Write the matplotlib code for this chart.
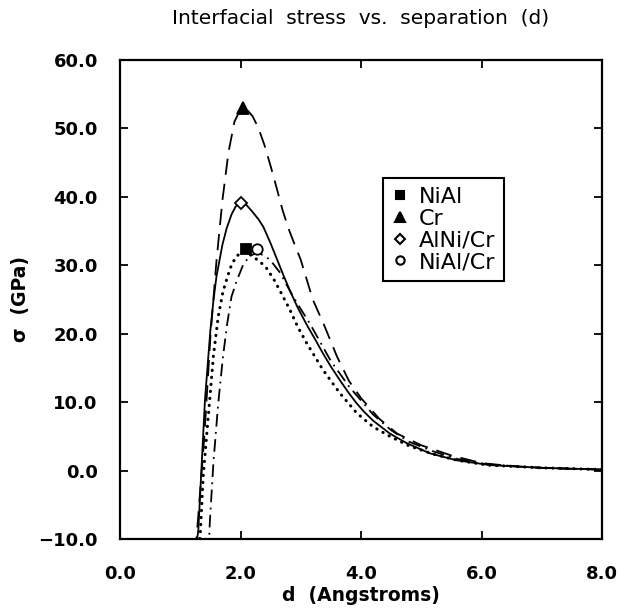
import matplotlib
matplotlib.use("Agg")
import matplotlib.pyplot as plt
from matplotlib.lines import Line2D

plt.rcParams['font.family'] = ['DejaVu Sans']

# ---- data ----
cr_x = [1.25, 1.30, 1.40, 1.50, 1.60, 1.70, 1.80, 1.90, 2.00, 2.05, 2.10, 2.20, 2.30, 2.40,
        2.50, 2.60, 2.70, 2.80, 2.90, 3.00, 3.20, 3.40, 3.60, 3.80, 4.00, 4.30, 4.60, 5.00,
        5.50, 6.00, 6.50, 7.00, 7.50, 8.00]
cr_y = [-12.0, -6.5, 5.0, 19.5, 30.5, 39.5, 46.5, 51.0, 52.8, 53.0, 52.8, 51.8, 50.0, 47.5,
        44.5, 41.3, 38.0, 35.3, 33.0, 30.8, 25.0, 21.0, 16.7, 13.1, 10.6, 7.6, 5.4, 3.7,
        2.2, 1.1, 0.65, 0.4, 0.25, 0.15]

alnicr_x = [1.25, 1.30, 1.41, 1.50, 1.55, 1.60, 1.70, 1.77, 1.85, 1.92, 2.00, 2.10, 2.20, 2.30,
            2.38, 2.50, 2.60, 2.71, 2.82, 2.95, 3.10, 3.25, 3.37, 3.50, 3.65, 3.80, 3.93, 4.05,
            4.20, 4.48, 4.76, 5.15, 5.59, 6.14, 7.00, 8.00]
alnicr_y = [-12.0, -8.7, 10.3, 20.5, 24.8, 28.3, 33.0, 35.4, 37.4, 38.6, 39.2, 38.8, 37.8, 36.7,
            35.6, 33.2, 31.0, 28.6, 26.3, 23.8, 21.3, 19.0, 17.1, 15.2, 13.2, 11.3, 9.8, 8.6,
            7.3, 5.4, 4.0, 2.5, 1.5, 0.8, 0.4, 0.15]

nial_x = [1.30, 1.33, 1.38, 1.47, 1.55, 1.63, 1.71, 1.83, 1.92, 2.00, 2.08, 2.15, 2.25, 2.35,
          2.43, 2.55, 2.66, 2.82, 2.95, 3.10, 3.37, 3.65, 3.93, 4.20, 4.48, 4.80, 5.20, 5.60,
          6.10, 7.00, 8.00]
nial_y = [-12.0, -9.7, -0.9, 8.4, 16.7, 22.5, 26.2, 29.6, 31.2, 31.8, 31.9, 31.6, 31.0, 30.3,
          29.6, 28.0, 26.2, 23.5, 21.0, 18.6, 14.7, 11.3, 8.4, 6.4, 5.0, 3.6, 2.4, 1.5,
          0.8, 0.4, 0.15]

nialcr_x = [1.47, 1.49, 1.55, 1.63, 1.71, 1.78, 1.85, 1.94, 2.05, 2.16, 2.27, 2.38, 2.49, 2.65,
            2.85, 3.00, 3.15, 3.50, 3.80, 4.20, 4.50, 4.80, 5.20, 5.60, 6.10, 7.00, 8.00]
nialcr_y = [-12.0, -7.7, 1.1, 9.8, 16.7, 21.5, 25.4, 27.8, 30.2, 31.4, 31.8, 31.5, 30.8, 29.0,
            25.8, 23.6, 21.5, 16.0, 12.3, 8.2, 5.9, 4.2, 2.8, 1.7, 0.9, 0.4, 0.15]

# peak markers
labels = ['NiAl', 'Cr', 'AlNi/Cr', 'NiAl/Cr']
peak_x = [2.09, 2.04, 2.00, 2.27]
peak_y = [32.4, 53.0, 39.1, 32.4]

x_ticks = [0.0, 2.0, 4.0, 6.0, 8.0]
y_ticks = [-10.0, 0.0, 10.0, 20.0, 30.0, 40.0, 50.0, 60.0]

# ---- figure ----
fig = plt.figure(figsize=(6.18, 6.10), dpi=100)
ax = fig.add_axes([120/618, 71/610, 482/618, 479/610])

lw = 1.3
ax.plot(alnicr_x, alnicr_y, color='black', lw=lw, linestyle='-')
ax.plot(cr_x, cr_y, color='black', lw=lw, linestyle=(0, (9, 5)))
ax.plot(nial_x, nial_y, color='black', lw=2.2, linestyle=(0, (0.1, 2.2)),
        dash_capstyle='round')
ax.plot(nialcr_x, nialcr_y, color='black', lw=lw, linestyle=(0, (7, 3, 1, 3)))

mk = ['s', '^', 'D', 'o']
mfc = ['black', 'black', 'white', 'white']
msz = [7.5, 8.5, 6.5, 7.5]
for i in range(4):
    ax.plot([peak_x[i]], [peak_y[i]], marker=mk[i], markersize=msz[i],
            markerfacecolor=mfc[i], markeredgecolor='black', markeredgewidth=1.3,
            linestyle='none', zorder=5)

handles = [Line2D([], [], marker=mk[i], markersize=msz[i] - 1.5, markerfacecolor=mfc[i],
                  markeredgecolor='black', markeredgewidth=1.5, linestyle='none')
           for i in range(4)]
leg = ax.legend(handles, labels, loc='upper left', bbox_to_anchor=(263/482, 1 - 118/479),
                frameon=True, fancybox=False, edgecolor='black', framealpha=1,
                fontsize=16, handlelength=0.7, handletextpad=0.5, labelspacing=0.08,
                borderpad=0.4, borderaxespad=0)
leg.get_frame().set_linewidth(1.5)

ax.set_xlim(0, 8)
ax.set_ylim(-10, 60)
ax.set_xticks(x_ticks)
ax.set_yticks(y_ticks)
ax.set_xticklabels([f"{v:.1f}" for v in x_ticks])
ax.set_yticklabels([f"{v:.1f}".replace('-', '\u2212') for v in y_ticks])
ax.tick_params(direction='in', length=6, width=1.3, top=True, right=True,
               labelsize=13)
ax.tick_params(axis='y', pad=16)
ax.tick_params(axis='x', pad=19)
for lab in ax.get_xticklabels() + ax.get_yticklabels():
    lab.set_fontweight('bold')
for s in ax.spines.values():
    s.set_linewidth(1.6)

ax.set_title('Interfacial  stress  vs.  separation  (d)', fontsize=14.5, pad=26)
ax.set_xlabel('d  (Angstroms)', fontsize=13.5, fontweight='bold', labelpad=2)
ax.set_ylabel('\u03c3  (GPa)', fontsize=13.5, fontweight='bold', labelpad=6)

fig.savefig('out.png', dpi=100)
